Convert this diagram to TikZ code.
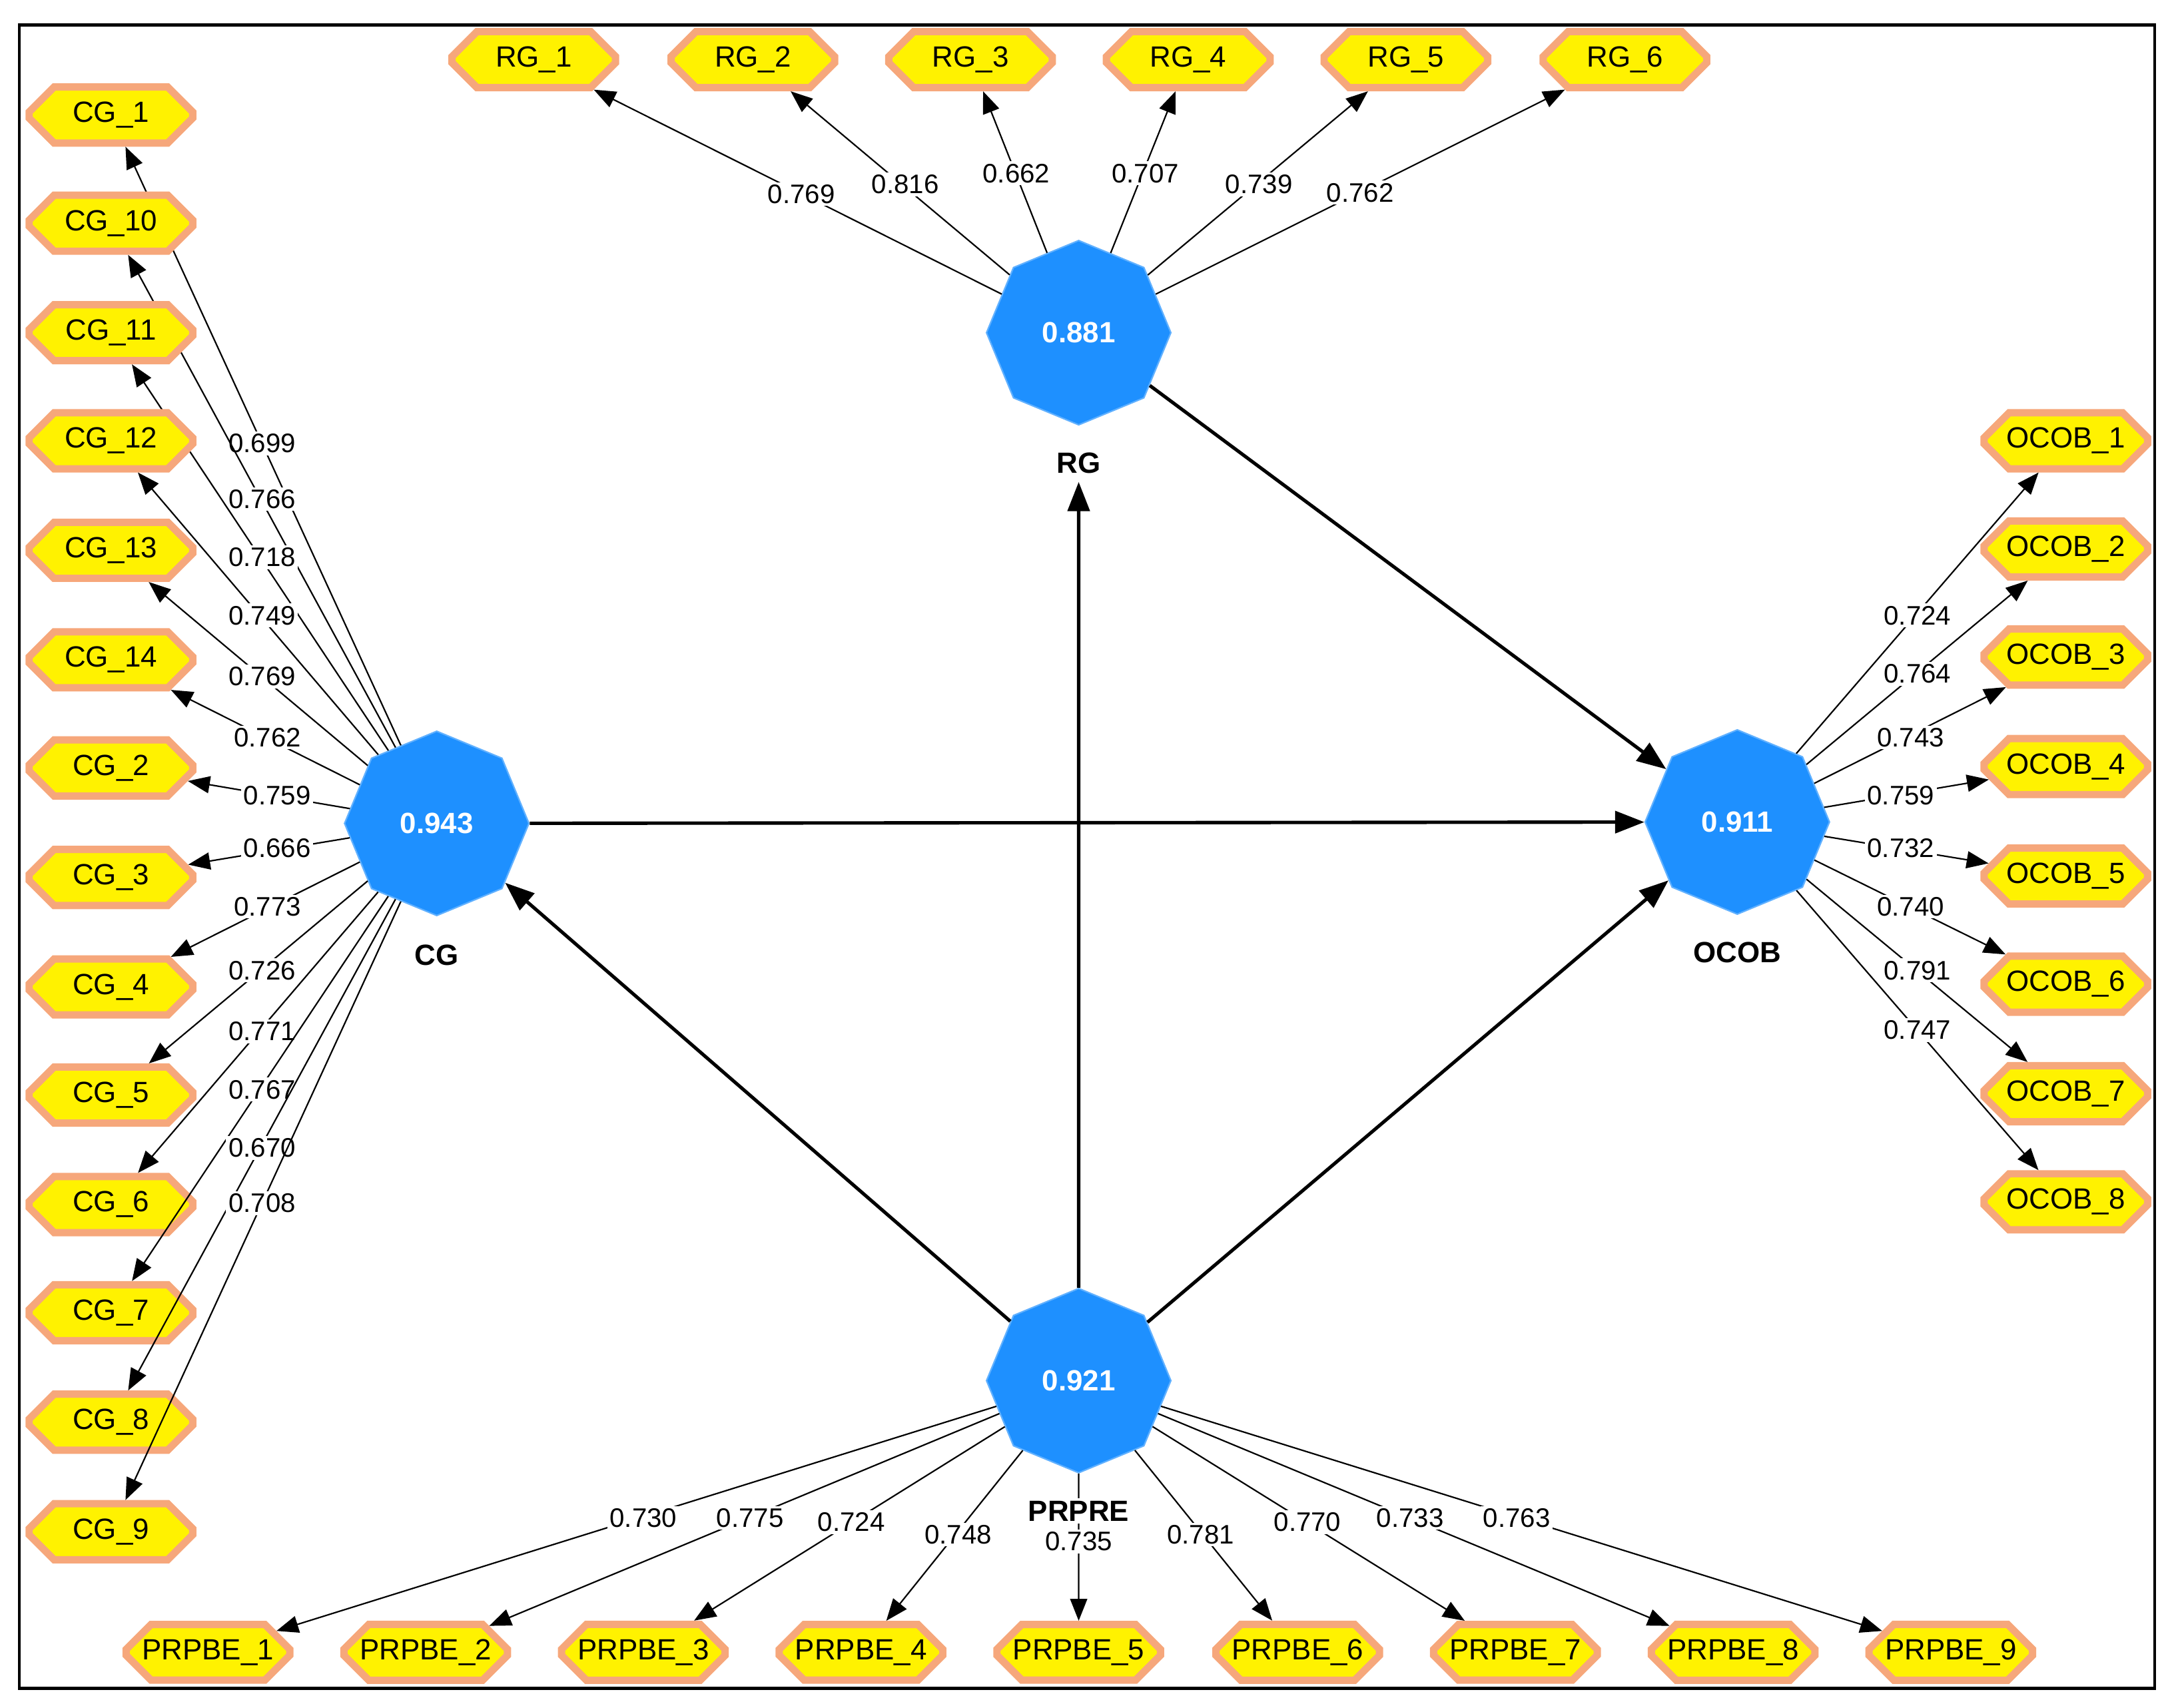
\documentclass[tikz,border=0pt]{standalone}
\usepackage{fontspec}
\setmainfont{Liberation Sans}
\usetikzlibrary{shapes.geometric,shapes.misc,arrows.meta}
\definecolor{lvblue}{HTML}{1E90FF}
\definecolor{indborder}{HTML}{F6A77B}
\begin{document}
\begin{tikzpicture}[x=0.02cm,y=-0.02cm,
 lv/.style={regular polygon,regular polygon sides=8,shape border rotate=22.5,minimum size=2.66cm,inner sep=0pt,fill=lvblue,draw=lvblue!70!white,line width=0.6pt,text=white,font=\fontsize{12}{14}\selectfont\bfseries},
 ind/.style={chamfered rectangle,chamfered rectangle xsep=0.18cm,chamfered rectangle ysep=0.18cm,minimum width=2.36cm,minimum height=0.76cm,fill=yellow,draw=indborder,line width=3pt,font=\fontsize{12}{14}\selectfont,inner sep=1pt},
 lbl/.style={fill=white,inner sep=1pt,font=\fontsize{11}{13}\selectfont},
 lvname/.style={font=\fontsize{12}{14}\selectfont\bfseries},
 load/.style={-{Triangle[length=9pt,width=7pt]},line width=0.6pt},
 path/.style={-{Triangle[length=12pt,width=9pt]},line width=1.4pt}]
\useasboundingbox (0,0) rectangle (1568,1232);
\draw[line width=1.2pt] (14,18) rectangle (1554,1218);
\node[lv] (RG) at (778,240) {0.881};
\node[lv] (CG) at (315,594) {0.943};
\node[lv] (OCOB) at (1253,593) {0.911};
\node[lv] (PRPRE) at (778,996) {0.921};
\node[lvname] (RGn) at (778,334) {RG};
\node[lvname] (CGn) at (315,689) {CG};
\node[lvname] (OCOBn) at (1253,687) {OCOB};
% paths
\draw[path] (RG) -- (OCOB);
\draw[path] (CG) -- (OCOB);
\draw[path] (PRPRE) -- (CG);
\draw[path] (PRPRE) -- (OCOB);
\draw[path] (PRPRE) -- (RGn);
% RG indicators
\foreach \i/\x/\lx/\ly/\v in {1/385/578/140/0.769,2/543/653/133/0.816,3/700/733/125/0.662,4/857/826/125/0.707,5/1014/908/133/0.739,6/1172/981/139/0.762}{
 \node[ind] (RG\i) at (\x,43) {RG\_\i};
 \draw[load] (RG) -- (RG\i);
 \node[lbl] (lRG\i) at (\lx,\ly) {\v};
}
% CG indicators
\foreach \n/\y/\ly/\lx/\v in {1/83/320/189/0.699,10/161/360/189/0.766,11/240/402/189/0.718,12/318/444/189/0.749,13/397/488/189/0.769,14/476/532/193/0.762,2/554/574/200/0.759,3/633/612/200/0.666,4/712/654/193/0.773,5/790/700/189/0.726,6/869/744/189/0.771,7/947/786/189/0.767,8/1026/828/189/0.670,9/1105/868/189/0.708}{
 \node[ind] (CG\n) at (80,\y) {CG\_\n};
 \draw[load] (CG) -- (CG\n);
 \node[lbl] (lCG\n) at (\lx,\ly) {\v};
}
% OCOB indicators
\foreach \i/\y/\lx/\ly/\v in {1/318/1383/444/0.724,2/396/1383/486/0.764,3/474/1378/532/0.743,4/553/1371/574/0.759,5/632/1371/612/0.732,6/710/1378/654/0.740,7/789/1383/700/0.791,8/867/1383/743/0.747}{
 \node[ind] (OCOB\i) at (1490,\y) {OCOB\_\i};
 \draw[load] (OCOB) -- (OCOB\i);
 \node[lbl] (lOCOB\i) at (\lx,\ly) {\v};
}
% PRPBE indicators
\foreach \i/\x/\lx/\ly/\v in {1/150/464/1095/0.730,2/307/541/1095/0.775,3/464/614/1098/0.724,4/621/691/1107/0.748,5/778/778/1112/0.735,6/936/866/1107/0.781,7/1093/943/1098/0.770,8/1250/1017/1095/0.733,9/1407/1094/1095/0.763}{
 \node[ind] (PB\i) at (\x,1192) {PRPBE\_\i};
 \draw[load] (PRPRE) -- (PB\i);
 \node[lbl] (lPB\i) at (\lx,\ly) {\v};
}
\node[lvname,fill=white,inner sep=1pt] (PRPREn) at (778,1090) {PRPRE};
\end{tikzpicture}
\end{document}
